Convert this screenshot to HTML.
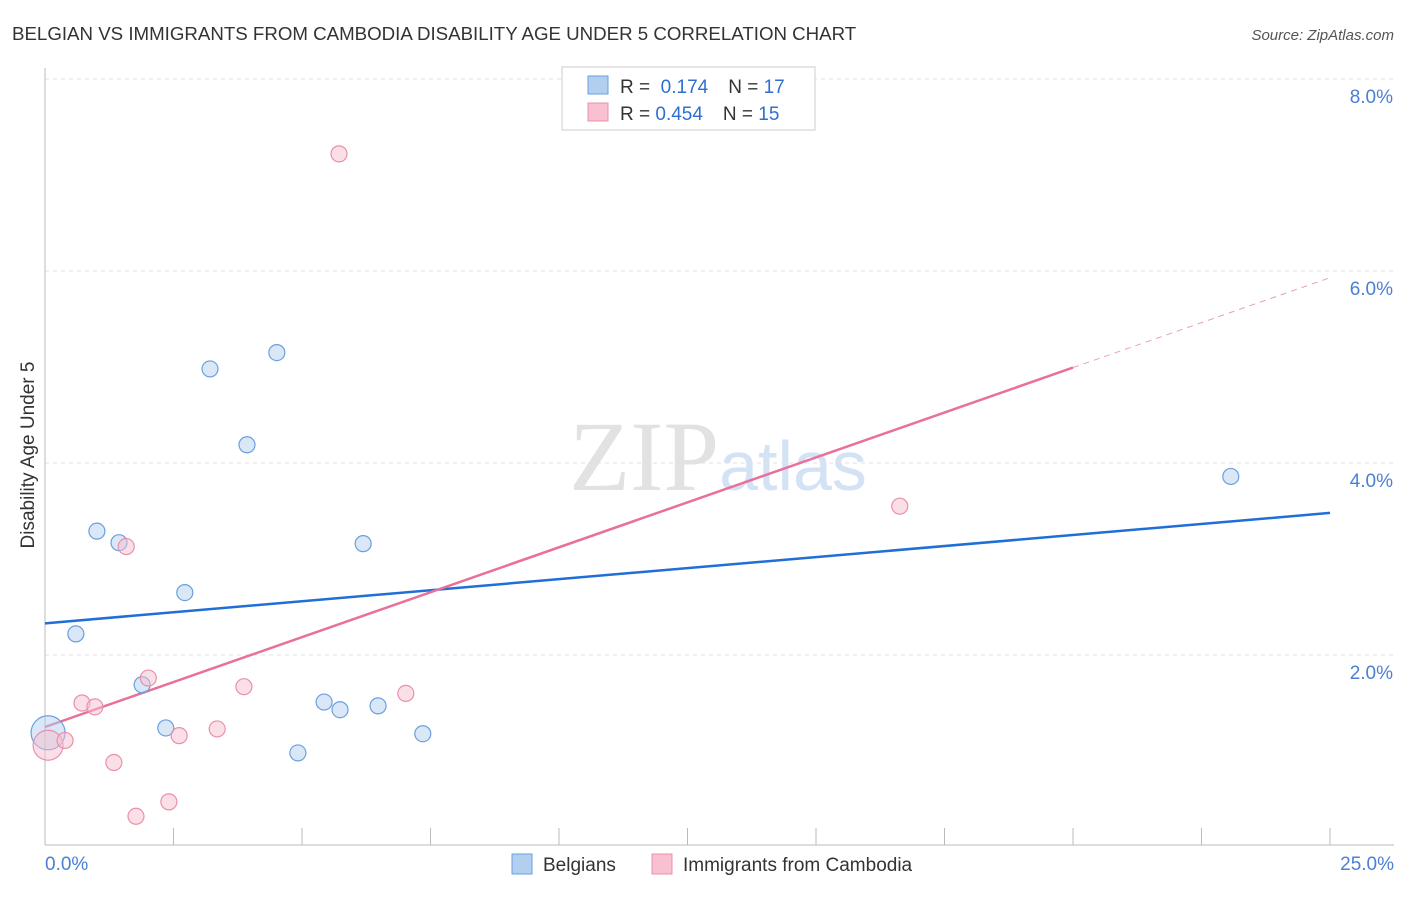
<!DOCTYPE html>
<html><head><meta charset="utf-8"><style>
body{margin:0;background:#fff;font-family:"Liberation Sans",sans-serif;}
</style></head><body>
<svg id="chart" width="1406" height="892" xmlns="http://www.w3.org/2000/svg" font-family="Liberation Sans, sans-serif">
<text x="12" y="40" font-size="18.7" fill="#333">BELGIAN VS IMMIGRANTS FROM CAMBODIA DISABILITY AGE UNDER 5 CORRELATION CHART</text>
<text x="1394" y="40" font-size="15" fill="#555" text-anchor="end" font-style="italic">Source: ZipAtlas.com</text>
<text x="34" y="455" font-size="19" fill="#333" text-anchor="middle" transform="rotate(-90 34 455)">Disability Age Under 5</text>
<text x="718" y="490" font-size="100" fill="#e2e2e2" text-anchor="middle" font-family="Liberation Serif, serif">ZIP<tspan fill="#d3e2f5" font-family="Liberation Sans, sans-serif" font-size="70">atlas</tspan></text>
<g id="grid"></g><g id="axes"></g><g id="lines"></g><g id="pts"></g>
<g>
<rect x="562" y="67" width="253" height="63" fill="#fff" stroke="#ccc"/>
<rect x="588" y="76" width="20" height="18" fill="#b3cff0" stroke="#6a9fe0"/>
<text x="620" y="93" font-size="19" fill="#333">R = <tspan fill="#2f6fd0">&#160;0.174</tspan><tspan dx="20">N = </tspan><tspan fill="#2f6fd0">17</tspan></text>
<rect x="588" y="103" width="20" height="18" fill="#f8c0d0" stroke="#e890aa"/>
<text x="620" y="120" font-size="19" fill="#333">R = <tspan fill="#2f6fd0">0.454</tspan><tspan dx="20">N = </tspan><tspan fill="#2f6fd0">15</tspan></text>
</g>
<g>
<rect x="512" y="854" width="20" height="20" fill="#b3cff0" stroke="#6a9fe0"/>
<text x="543" y="871" font-size="19" fill="#333">Belgians</text>
<rect x="652" y="854" width="20" height="20" fill="#f8c0d0" stroke="#e890aa"/>
<text x="683" y="871" font-size="19" fill="#333">Immigrants from Cambodia</text>
</g>
</svg>
<script>
const xTicks=[0,25];
const yTicks=[2,4,6,8];
const blueX=[0.06,0.60,1.01,1.44,1.89,2.35,2.72,3.21,3.93,4.51,4.92,5.43,5.74,6.19,6.48,7.35,23.07];
const blueY=[1.19,2.22,3.29,3.17,1.69,1.24,2.65,4.98,4.19,5.15,0.98,1.51,1.43,3.16,1.47,1.18,3.86];
const pinkX=[0.06,0.39,0.72,0.97,1.34,1.58,1.77,2.01,2.41,2.61,3.35,3.87,5.72,7.02,16.63];
const pinkY=[1.06,1.11,1.50,1.46,0.88,3.13,0.32,1.76,0.47,1.16,1.23,1.67,7.22,1.60,3.55];
const blueTrend=[2.33,3.48];
const pinkTrend=[1.25,5.93];
const pinkSolidEnd=20;
const NS="http://www.w3.org/2000/svg";
const sx=v=>45+v*51.4, sy=v=>847-v*96;
function mk(t,a,p){const e=document.createElementNS(NS,t);for(const k in a)e.setAttribute(k,a[k]);document.getElementById(p).appendChild(e);return e;}
yTicks.forEach(t=>{
 const l=mk('line',{x1:45,x2:1394,y1:sy(t),y2:sy(t),stroke:'#e0e0e0','stroke-dasharray':'4,4'},'grid');
 
 
 const tx=mk('text',{x:1393,y:sy(t)+24,'font-size':19,fill:'#4a7fd4','text-anchor':'end'},'grid');tx.textContent=t.toFixed(1)+'%';
 
 
});
mk('line',{x1:45,x2:1394,y1:845,y2:845,stroke:'#bbb'},'axes');
mk('line',{x1:45,x2:45,y1:68,y2:845,stroke:'#bbb'},'axes');
for(let i=1;i<=10;i++){const t=mk('line',{x1:sx(i*2.5),x2:sx(i*2.5),y1:828,y2:845,stroke:'#bbb'},'axes');
 
 }
xTicks.forEach((t,i)=>{const tx=mk('text',{x:i?1394:45,y:870,'font-size':19,fill:'#4a7fd4','text-anchor':i?'end':'start'},'axes');tx.textContent=t.toFixed(1)+'%';
 
 });
const bl=mk('line',{x1:sx(0),y1:sy(blueTrend[0]),x2:sx(25),y2:sy(blueTrend[1]),stroke:'#1f6fd6','stroke-width':2.5},'lines');


const pf=v=>pinkTrend[0]+(pinkTrend[1]-pinkTrend[0])*v/25;
const pl=mk('line',{x1:sx(0),y1:sy(pf(0)),x2:sx(pinkSolidEnd),y2:sy(pf(pinkSolidEnd)),stroke:'#e8709a','stroke-width':2.5},'lines');


const pd=mk('line',{x1:sx(pinkSolidEnd),y1:sy(pf(pinkSolidEnd)),x2:sx(25),y2:sy(pf(25)),stroke:'#e8a0b8','stroke-width':1,'stroke-dasharray':'6,5'},'lines');


blueX.forEach((x,i)=>{const c=mk('circle',{cx:sx(x),cy:sy(blueY[i]),r:i==0?17:8,fill:'#b3cff0','fill-opacity':0.5,stroke:'#6a9fe0','stroke-width':1.2},'pts');
 
 });
pinkX.forEach((x,i)=>{const c=mk('circle',{cx:sx(x),cy:sy(pinkY[i]),r:i==0?15:8,fill:'#f8c0d0','fill-opacity':0.5,stroke:'#e890aa','stroke-width':1.2},'pts');
 
 });
</script>
</body></html>
